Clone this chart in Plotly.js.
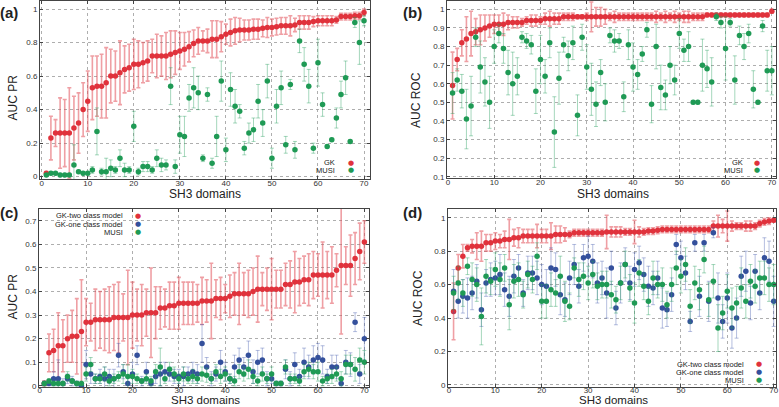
<!DOCTYPE html>
<html><head><meta charset="utf-8">
<script src="https://cdn.plot.ly/plotly-3.0.1.min.js"></script>
<style>html,body{margin:0;padding:0;background:#fff}#c{width:779px;height:407px}</style>
</head><body><div id="c"></div><script>
const domains = [1,2,3,4,5,6,7,8,9,10,11,12,13,14,15,16,17,18,19,20,21,22,23,24,25,26,27,28,29,30,31,32,33,34,35,36,37,38,39,40,41,42,43,44,45,46,47,48,49,50,51,52,53,54,55,56,57,58,59,60,61,62,63,64,65,66,67,68,69,70];
const xTicks = [0,10,20,30,40,50,60,70];

// (a) AUC PR
const aGK = [0.02,0.23,0.26,0.26,0.26,0.26,0.29,0.32,0.40,0.45, 0.53,0.54,0.54,0.56,0.60,0.60,0.62,0.64,0.65,0.67, 0.67,0.68,0.69,0.72,0.72,0.72,0.72,0.73,0.74,0.75, 0.76,0.775,0.795,0.81,0.81,0.81,0.82,0.82,0.835,0.85, 0.86,0.87,0.875,0.875,0.875,0.88,0.88,0.885,0.89,0.89, 0.895,0.90,0.90,0.90,0.905,0.92,0.92,0.92,0.925,0.93, 0.93,0.93,0.93,0.935,0.955,0.955,0.955,0.96,0.96,0.98];
const aGKerr = [0.01,0.13,0.08,0.21,0.2,0.27,0.19,0.18,0.16,0.18, 0.19,0.18,0.19,0.21,0.16,0.15,0.19,0.14,0.14,0.15, 0.14,0.12,0.12,0.10,0.13,0.12,0.14,0.14,0.13,0.11, 0.10,0.09,0.08,0.08,0.06,0.07,0.11,0.11,0.09,0.06, 0.08,0.08,0.07,0.06,0.06,0.06,0.06,0.05,0.06,0.05, 0.05,0.05,0.05,0.06,0.04,0.04,0.04,0.04,0.03,0.03, 0.03,0.03,0.03,0.02,0.02,0.02,0.02,0.02,0.02,0.02];
const aMUSI = [0.01,0.02,0.02,0.01,0.01,0.01,0.07,0.03,0.02,0.02, 0.04,0.27,0.03,0.03,0.05,0.04,0.11,0.04,0.04,0.30, 0.03,0.06,0.06,0.04,0.11,0.07,0.07,0.54,0.06,0.25, 0.24,0.47,0.53,0.50,0.11,0.49,0.08,0.24,0.57,0.16, 0.52,0.42,0.39,0.17,0.26,0.28,0.45,0.32,0.57,0.11, 0.42,0.53,0.19,0.55,0.16,0.81,0.67,0.54,0.17,0.68, 0.43,0.18,0.22,0.35,0.49,0.59,0.21,0.92,0.80,0.93];
const aMUSIerr = [0.005,0.01,0.01,0.01,0.01,0.01,0.12,0.01,0.01,0.01, 0.02,0.14,0.02,0.08,0.05,0.02,0.05,0.04,0.02,0.09, 0.02,0.03,0.03,0.02,0.05,0.04,0.03,0.11,0.04,0.11, 0.12,0.08,0.12,0.1,0.02,0.04,0.03,0.12,0.12,0.07, 0.1,0.1,0.04,0.04,0.06,0.07,0.1,0.08,0.1,0.06, 0.1,0.1,0.05,0.03,0.05,0.07,0.1,0.1,0.03,0.14, 0.07,0.01,0.01,0.06,0.08,0.1,0.01,0.03,0.13,0.03];

// (b) AUC ROC
const bGK = [0.59,0.73,0.82,0.84,0.87,0.88,0.89,0.90,0.91,0.92, 0.92,0.92,0.93,0.93,0.93,0.93,0.94,0.94,0.94,0.94, 0.95,0.95,0.95,0.95,0.96,0.96,0.96,0.96,0.96,0.96, 0.96,0.96,0.96,0.96,0.96,0.96,0.96,0.96,0.96,0.96, 0.96,0.96,0.96,0.96,0.96,0.96,0.96,0.96,0.96,0.96, 0.96,0.96,0.96,0.96,0.96,0.97,0.97,0.97,0.97,0.97, 0.97,0.97,0.97,0.97,0.97,0.97,0.97,0.97,0.97,0.99];
const bGKerr = [0.18,0.06,0.07,0.12,0.12,0.07,0.08,0.07,0.06,0.05, 0.05,0.06,0.04,0.03,0.03,0.02,0.02,0.03,0.03,0.02, 0.03,0.04,0.03,0.03,0.02,0.02,0.02,0.01,0.01,0.02, 0.08,0.05,0.05,0.04,0.02,0.03,0.02,0.02,0.02,0.02, 0.02,0.02,0.02,0.02,0.03,0.02,0.03,0.02,0.03,0.02, 0.03,0.03,0.02,0.02,0.02,0.01,0.01,0.01,0.01,0.01, 0.01,0.01,0.01,0.01,0.01,0.01,0.01,0.01,0.01,0.01];
const bMUSI = [0.55,0.62,0.56,0.41,0.48,0.85,0.69,0.61,0.50,0.80, 0.87,0.79,0.66,0.60,0.64,0.85,0.83,0.81,0.56,0.73, 0.64,0.82,0.34,0.63,0.81,0.75,0.82,0.43,0.85,0.69, 0.57,0.49,0.66,0.50,0.86,0.83,0.83,0.53,0.81,0.69, 0.65,0.76,0.89,0.49,0.80,0.58,0.54,0.70,0.62,0.87, 0.78,0.80,0.50,0.50,0.70,0.68,0.61,0.96,0.93,0.79, 0.93,0.62,0.86,0.80,0.87,0.57,0.50,0.91,0.67,0.67];
const bMUSIerr = [0.11,0.06,0.09,0.16,0.16,0.05,0.14,0.13,0.14,0.09, 0.05,0.08,0.12,0.17,0.10,0.03,0.04,0.05,0.12,0.13, 0.09,0.08,0.19,0.14,0.04,0.08,0.09,0.11,0.07,0.12, 0.14,0.12,0.07,0.10,0.04,0.06,0.04,0.08,0.08,0.13, 0.08,0.04,0.04,0.10,0.12,0.12,0.08,0.10,0.08,0.08, 0.06,0.08,0.01,0.01,0.14,0.10,0.13,0.02,0.03,0.17, 0.02,0.13,0.05,0.07,0.05,0.10,0.01,0.03,0.11,0.13];

// (c) AUC PR, three models
const cGK = [0.01,0.14,0.15,0.17,0.17,0.20,0.21,0.21,0.23,0.27, 0.27,0.28,0.28,0.28,0.28,0.29,0.29,0.29,0.29,0.30, 0.30,0.30,0.31,0.31,0.31,0.33,0.33,0.34,0.34,0.35, 0.35,0.35,0.35,0.35,0.36,0.36,0.36,0.37,0.37,0.37, 0.38,0.39,0.39,0.39,0.39,0.40,0.41,0.41,0.41,0.41, 0.41,0.41,0.43,0.43,0.44,0.44,0.45,0.45,0.47,0.47, 0.47,0.47,0.47,0.49,0.51,0.51,0.51,0.54,0.57,0.61];
const cGKerr = [0.01,0.08,0.09,0.14,0.11,0.10,0.11,0.16,0.22,0.10, 0.08,0.13,0.12,0.13,0.14,0.14,0.15,0.10,0.20,0.14, 0.11,0.13,0.10,0.19,0.11,0.09,0.08,0.10,0.10,0.11, 0.09,0.09,0.09,0.08,0.10,0.09,0.16,0.08,0.09,0.06, 0.09,0.09,0.13,0.09,0.10,0.10,0.14,0.07,0.09,0.13, 0.08,0.08,0.09,0.10,0.13,0.10,0.10,0.11,0.10,0.09, 0.14,0.10,0.12,0.07,0.29,0.08,0.13,0.11,0.12,0.09];
const cOne = [0.01,0.01,0.03,0.03,0.01,0.03,0.02,0.01,0.00,0.09, 0.05,0.03,0.04,0.03,0.04,0.03,0.13,0.06,0.01,0.05, 0.13,0.02,0.06,0.01,0.04,0.05,0.06,0.05,0.04,0.04, 0.04,0.05,0.06,0.05,0.18,0.08,0.03,0.05,0.10,0.06, 0.03,0.08,0.11,0.08,0.13,0.06,0.10,0.11,0.03,0.03, 0.01,0.01,0.07,0.03,0.09,0.04,0.10,0.08,0.11,0.12, 0.11,0.04,0.08,0.08,0.01,0.10,0.09,0.27,0.05,0.20];
const cOneErr = [0.01,0.01,0.03,0.08,0.02,0.02,0.02,0.01,0.01,0.06, 0.04,0.02,0.03,0.05,0.03,0.04,0.05,0.03,0.03,0.05, 0.04,0.02,0.04,0.02,0.03,0.05,0.04,0.03,0.03,0.03, 0.04,0.03,0.04,0.04,0.08,0.04,0.03,0.03,0.05,0.04, 0.02,0.05,0.05,0.04,0.06,0.05,0.05,0.05,0.03,0.02, 0.01,0.01,0.04,0.03,0.05,0.03,0.06,0.05,0.06,0.06, 0.06,0.03,0.05,0.05,0.02,0.05,0.05,0.04,0.04,0.09];
const cMUSI = [0.01,0.02,0.01,0.01,0.01,0.04,0.02,0.01,0.01,0.05, 0.09,0.03,0.03,0.05,0.02,0.03,0.04,0.05,0.04,0.04, 0.03,0.02,0.03,0.02,0.06,0.08,0.03,0.07,0.05,0.03, 0.05,0.03,0.04,0.03,0.05,0.045,0.03,0.06,0.04,0.05, 0.03,0.02,0.06,0.05,0.07,0.04,0.02,0.05,0.03,0.05, 0.01,0.01,0.08,0.03,0.03,0.02,0.06,0.07,0.06,0.06, 0.02,0.03,0.04,0.05,0.03,0.09,0.09,0.07,0.11,0.10];
const cMUSIerr = [0.01,0.01,0.01,0.01,0.01,0.02,0.01,0.01,0.01,0.03, 0.03,0.02,0.02,0.03,0.02,0.02,0.02,0.04,0.05,0.03, 0.02,0.01,0.02,0.02,0.03,0.08,0.02,0.03,0.03,0.02, 0.03,0.02,0.03,0.02,0.03,0.03,0.02,0.03,0.03,0.03, 0.02,0.02,0.03,0.03,0.04,0.03,0.02,0.03,0.02,0.03, 0.01,0.01,0.03,0.02,0.02,0.02,0.03,0.03,0.03,0.04, 0.02,0.02,0.03,0.03,0.03,0.04,0.04,0.05,0.05,0.05];

// (d) AUC ROC, three models
const dGK = [0.44,0.70,0.77,0.82,0.83,0.83,0.83,0.85,0.85,0.86, 0.86,0.87,0.87,0.88,0.88,0.89,0.89,0.89,0.89,0.89, 0.89,0.89,0.90,0.90,0.90,0.90,0.91,0.91,0.91,0.91, 0.91,0.91,0.91,0.915,0.915,0.915,0.915,0.915,0.915,0.915, 0.915,0.915,0.92,0.92,0.925,0.93,0.93,0.93,0.93,0.93, 0.93,0.93,0.93,0.93,0.93,0.93,0.95,0.95,0.95,0.95, 0.95,0.95,0.95,0.95,0.95,0.95,0.965,0.975,0.98,0.985];
const dGKerr = [0.17,0.08,0.07,0.02,0.04,0.08,0.09,0.05,0.05,0.05, 0.04,0.05,0.12,0.05,0.06,0.04,0.04,0.04,0.07,0.04, 0.04,0.08,0.05,0.05,0.04,0.02,0.02,0.02,0.02,0.02, 0.02,0.02,0.02,0.10,0.03,0.03,0.03,0.02,0.02,0.07, 0.03,0.02,0.02,0.02,0.02,0.02,0.02,0.02,0.02,0.02, 0.02,0.02,0.02,0.02,0.02,0.02,0.03,0.065,0.04,0.09, 0.03,0.02,0.02,0.03,0.03,0.02,0.02,0.02,0.02,0.01];
const dOne = [0.56,0.50,0.53,0.52,0.55,0.62,0.45,0.61,0.63,0.64, 0.66,0.57,0.53,0.65,0.70,0.55,0.67,0.67,0.64,0.60, 0.59,0.70,0.69,0.54,0.51,0.64,0.72,0.59,0.76,0.77, 0.74,0.61,0.64,0.55,0.70,0.46,0.61,0.72,0.61,0.69, 0.73,0.66,0.59,0.58,0.64,0.46,0.45,0.54,0.84,0.76, 0.67,0.38,0.85,0.53,0.85,0.50,0.91,0.52,0.38,0.52, 0.34,0.40,0.65,0.68,0.49,0.68,0.55,0.76,0.74,0.50];
const dOneErr = [0.13,0.10,0.10,0.12,0.10,0.10,0.10,0.08,0.10,0.10, 0.12,0.10,0.12,0.10,0.08,0.08,0.10,0.10,0.10,0.12, 0.10,0.12,0.10,0.12,0.10,0.10,0.12,0.10,0.08,0.12, 0.10,0.12,0.10,0.15,0.10,0.10,0.12,0.10,0.10,0.10, 0.10,0.10,0.12,0.10,0.10,0.12,0.10,0.10,0.06,0.10, 0.10,0.06,0.05,0.12,0.05,0.12,0.03,0.15,0.10,0.15, 0.12,0.12,0.12,0.12,0.10,0.10,0.10,0.12,0.12,0.15];
const dMUSI = [0.55,0.61,0.55,0.71,0.63,0.60,0.41,0.65,0.62,0.69, 0.63,0.70,0.48,0.62,0.63,0.54,0.66,0.63,0.77,0.50, 0.50,0.57,0.55,0.65,0.50,0.47,0.70,0.63,0.65,0.61, 0.66,0.59,0.60,0.60,0.54,0.51,0.61,0.72,0.58,0.49, 0.67,0.59,0.50,0.64,0.60,0.60,0.48,0.60,0.70,0.65, 0.72,0.47,0.61,0.57,0.75,0.51,0.62,0.34,0.43,0.56, 0.46,0.49,0.58,0.50,0.62,0.59,0.64,0.64,0.60,0.60];
const dMUSIerr = [0.10,0.10,0.08,0.05,0.10,0.10,0.17,0.10,0.08,0.10, 0.10,0.08,0.15,0.10,0.10,0.08,0.08,0.08,0.08,0.10, 0.10,0.10,0.08,0.12,0.12,0.08,0.06,0.10,0.08,0.10, 0.08,0.08,0.08,0.08,0.08,0.08,0.10,0.08,0.08,0.12, 0.08,0.08,0.08,0.10,0.08,0.10,0.08,0.10,0.10,0.10, 0.10,0.10,0.10,0.12,0.08,0.10,0.10,0.14,0.10,0.10, 0.12,0.10,0.12,0.10,0.10,0.10,0.10,0.10,0.10,0.12];

const RED = '#e0323c', GREEN = '#1f9a55', BLUE = '#34509c';
const RED_E = 'rgba(226,80,90,0.55)', GREEN_E = 'rgba(40,160,95,0.42)', BLUE_E = 'rgba(60,85,170,0.38)';

function series(y, err, color, ecolor, xa, ya, ew) {
  return {
    type: 'scatter', mode: 'markers', x: domains, y: y, xaxis: xa, yaxis: ya,
    marker: {color: color, size: 5.5},
    error_y: {type: 'data', array: err, visible: true, color: ecolor, thickness: ew, width: 2},
    showlegend: false, hoverinfo: 'skip'
  };
}

const traces = [
  series(aGK, aGKerr, RED, RED_E, 'x', 'y', 1.6),
  series(aMUSI, aMUSIerr, GREEN, GREEN_E, 'x', 'y', 1),
  series(bGK, bGKerr, RED, RED_E, 'x2', 'y2', 1.6),
  series(bMUSI, bMUSIerr, GREEN, GREEN_E, 'x2', 'y2', 1),
  series(cGK, cGKerr, RED, RED_E, 'x3', 'y3', 1.6),
  series(cOne, cOneErr, BLUE, BLUE_E, 'x3', 'y3', 1),
  series(cMUSI, cMUSIerr, GREEN, GREEN_E, 'x3', 'y3', 1),
  series(dGK, dGKerr, RED, RED_E, 'x4', 'y4', 1.6),
  series(dOne, dOneErr, BLUE, BLUE_E, 'x4', 'y4', 1),
  series(dMUSI, dMUSIerr, GREEN, GREEN_E, 'x4', 'y4', 1)
];

const FONT = 'Liberation Sans, Arial, sans-serif';
function ax(extra) {
  return Object.assign({
    showline: true, mirror: 'ticks', linecolor: '#444', linewidth: 1,
    ticks: 'inside', ticklen: 3, tickcolor: '#444',
    showgrid: true, gridcolor: '#9a9a9a', griddash: 'dot', gridwidth: 0.8,
    zeroline: false, tickfont: {size: 8, color: '#333', family: FONT}
  }, extra);
}
const W = 779, H = 407;
const px = v => v / W, py = v => 1 - v / H;
const xax = extra => ax(Object.assign({tickvals: xTicks, ticklabelstandoff: -4}, extra));

const layout = {
  width: W, height: H, margin: {l: 0, r: 0, t: 0, b: 0},
  paper_bgcolor: '#fff', plot_bgcolor: '#fff', showlegend: false,
  font: {family: FONT},
  xaxis: xax({domain: [px(40), px(370)], range: [-0.37, 71.3], anchor: 'y'}),
  yaxis: ax({domain: [py(179), py(1)], range: [-0.014, 1.048], tickvals: [0,0.2,0.4,0.6,0.8,1], anchor: 'x'}),
  xaxis2: xax({domain: [px(447), px(776)], range: [-0.2, 70.9], anchor: 'y2'}),
  yaxis2: ax({domain: [py(178), py(1)], range: [0.093, 1.045], tickvals: [0.1,0.2,0.3,0.4,0.5,0.6,0.7,0.8,0.9,1], anchor: 'x2'}),
  xaxis3: xax({domain: [px(39), px(369)], range: [-0.15, 71.0], anchor: 'y3', ticklabelstandoff: -5}),
  yaxis3: ax({domain: [py(387), py(209)], range: [-0.005, 0.75], tickvals: [0,0.1,0.2,0.3,0.4,0.5,0.6,0.7], anchor: 'x3'}),
  xaxis4: xax({domain: [px(448), px(776)], range: [-0.2, 70.5], anchor: 'y4', ticklabelstandoff: -5}),
  yaxis4: ax({domain: [py(387), py(209)], range: [-0.012, 1.052], tickvals: [0,0.2,0.4,0.6,0.8,1], anchor: 'x4'}),
  annotations: []
};

function txt(t, x, y, size, opts) {
  layout.annotations.push(Object.assign({text: t, x: px(x), y: py(y), xref: 'paper', yref: 'paper',
    xanchor: 'center', yanchor: 'middle', showarrow: false, borderpad: 0,
    font: {size: size, color: '#222', family: FONT}}, opts || {}));
}
// panel labels
txt('<b>(a)</b>', -1, 13, 15, {xanchor: 'left'});
txt('<b>(b)</b>', 402, 13, 15, {xanchor: 'left'});
txt('<b>(c)</b>', -1, 212, 15, {xanchor: 'left'});
txt('<b>(d)</b>', 402, 212, 15, {xanchor: 'left'});
// axis titles
txt('SH3 domains', 205, 194, 12);
txt('SH3 domains', 613, 194, 12);
txt('SH3 domains', 205, 407, 11.5, {yanchor: 'bottom'});
txt('SH3 domains', 613, 407, 11.5, {yanchor: 'bottom'});
txt('AUC PR', 12.5, 98, 12, {textangle: -90});
txt('AUC ROC', 416, 100, 12, {textangle: -90});
txt('AUC PR', 12.5, 297, 12, {textangle: -90});
txt('AUC ROC', 418, 298, 12, {textangle: -90});

function key(t, xr, xm, y, color) {
  txt(t, xr, y, 7.5, {xanchor: 'right'});
  txt('●', xm, y, 7, {font: {size: 7, color: color, family: 'DejaVu Sans'}});
}
key('GK', 336, 351, 163, RED); key('MUSI', 336, 351, 170, GREEN);
key('GK', 744, 757, 163, RED); key('MUSI', 744, 757, 170, GREEN);
key('GK-two class model', 124, 138, 216, RED); key('GK-one class model', 124, 138, 224, BLUE); key('MUSI', 124, 138, 232, GREEN);
key('GK-two class model', 745, 759, 364, RED); key('GK-one class model', 745, 759, 372, BLUE); key('MUSI', 745, 759, 380, GREEN);

Plotly.newPlot('c', traces, layout, {displayModeBar: false, staticPlot: true});
</script></body></html>
